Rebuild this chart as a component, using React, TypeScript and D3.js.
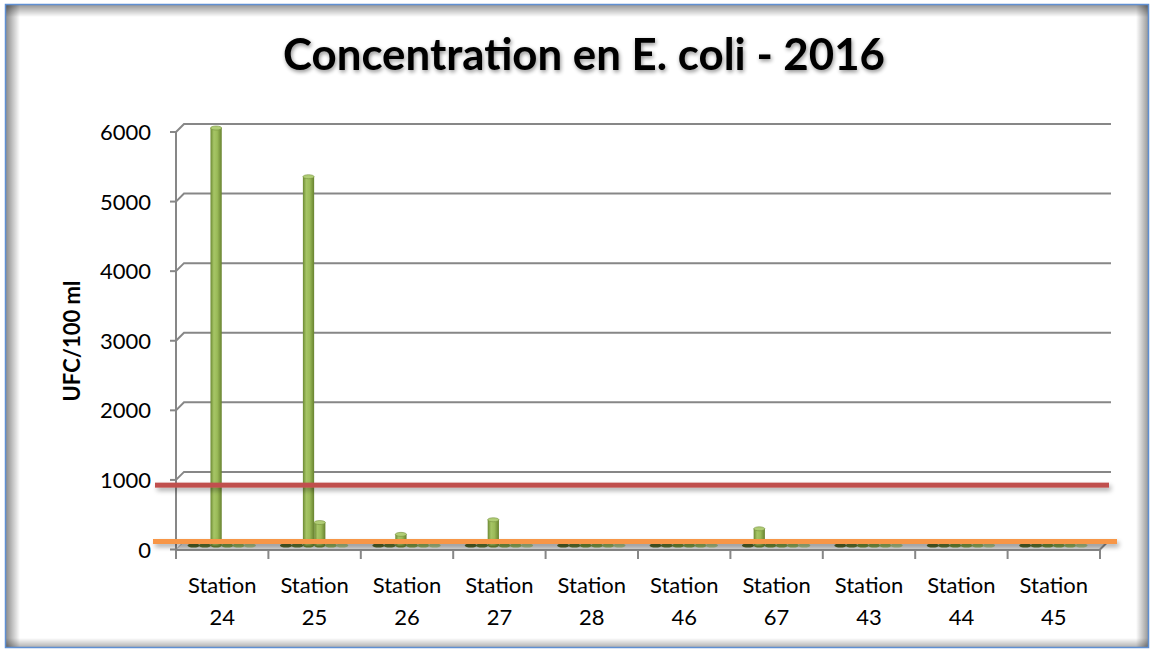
import React from 'react';
import * as d3 from 'd3';

const stations = ['24', '25', '26', '27', '28', '46', '67', '43', '44', '45'];
const seriesNames = ['S1', 'S2', 'S3', 'S4', 'S5', 'S6'];
const series1 = [15, 10, 10, 8, 5, 10, 10, 8, 10, 5];
const series2 = [20, 15, 25, 10, 5, 10, 240, 10, 15, 10];
const series3 = [6000, 5300, 160, 370, 8, 10, 20, 15, 15, 10];
const series4 = [10, 330, 15, 10, 5, 5, 10, 10, 10, 10];
const series5 = [8, 10, 10, 5, 5, 5, 10, 5, 5, 5];
const series6 = [5, 5, 5, 5, 5, 5, 5, 5, 5, 5];
const allSeries = [series1, series2, series3, series4, series5, series6];
const yTicks = [0, 1000, 2000, 3000, 4000, 5000, 6000];
const redThreshold = 925;
const orangeThreshold = 115;
const title = 'Concentration en E. coli - 2016';
const yTitle = 'UFC/100 ml';
const catPrefix = 'Station';

const W = 1154;
const H = 652;
const DX = 8;
const DY = -8;
const shades = ['#4f6228', '#5a7230', '#6b8a35', '#7a9a45', '#8fae5c', '#a7bf85'];

export default function App() {
  const x0 = d3.scaleBand<string>().domain(stations).range([176, 1100]).padding(0);
  const bw = x0.bandwidth();
  const x1 = d3.scaleBand<string>().domain(seriesNames).range([bw * 0.13, bw * 0.86]).padding(0);
  const y = d3.scaleLinear().domain([0, 6000]).range([549.5, 132]);
  const font = 'Lato, "Open Sans", sans-serif';
  const baseY = y(0) - 4;

  return (
    <svg width={W} height={H} style={{ position: 'absolute', left: 0, top: 0, display: 'block' }} xmlns="http://www.w3.org/2000/svg">
      <defs>
        <linearGradient id="cyl" x1="0" x2="1" y1="0" y2="0">
          <stop offset="0%" stopColor="#6c8933" />
          <stop offset="30%" stopColor="#a6c566" />
          <stop offset="60%" stopColor="#9bbb59" />
          <stop offset="100%" stopColor="#67822f" />
        </linearGradient>
        <linearGradient id="shL" x1="0" x2="1" y1="0" y2="0">
          <stop offset="0%" stopColor="#000" stopOpacity="0.45" />
          <stop offset="100%" stopColor="#000" stopOpacity="0" />
        </linearGradient>
        <linearGradient id="shR" x1="1" x2="0" y1="0" y2="0">
          <stop offset="0%" stopColor="#000" stopOpacity="0.4" />
          <stop offset="100%" stopColor="#000" stopOpacity="0" />
        </linearGradient>
        <linearGradient id="shT" x1="0" x2="0" y1="0" y2="1">
          <stop offset="0%" stopColor="#000" stopOpacity="0.4" />
          <stop offset="100%" stopColor="#000" stopOpacity="0" />
        </linearGradient>
        <linearGradient id="shB" x1="0" x2="0" y1="1" y2="0">
          <stop offset="0%" stopColor="#000" stopOpacity="0.3" />
          <stop offset="100%" stopColor="#000" stopOpacity="0" />
        </linearGradient>
        <filter id="tshadow" x="-10%" y="-30%" width="120%" height="160%">
          <feGaussianBlur in="SourceAlpha" stdDeviation="2" />
          <feOffset dx="1" dy="2" result="b" />
          <feComponentTransfer><feFuncA type="linear" slope="0.45" /></feComponentTransfer>
          <feMerge><feMergeNode /><feMergeNode in="SourceGraphic" /></feMerge>
        </filter>
        <filter id="lshadow" filterUnits="userSpaceOnUse" x="0" y="0" width={W} height={H}>
          <feGaussianBlur in="SourceAlpha" stdDeviation="2.5" />
          <feOffset dx="2" dy="3" />
          <feComponentTransfer><feFuncA type="linear" slope="0.35" /></feComponentTransfer>
          <feMerge><feMergeNode /><feMergeNode in="SourceGraphic" /></feMerge>
        </filter>
      </defs>

      {/* frame */}
      <rect x={0} y={0} width={W} height={H} fill="#fff" />
      <rect x={5.5} y={4.5} width={1143} height={643} fill="#fff" />
      <rect x={6} y={5} width={14} height={642} fill="url(#shL)" />
      <rect x={6} y={5} width={1142} height={12} fill="url(#shT)" />
      <rect x={1136} y={5} width={12} height={642} fill="url(#shR)" />
      <rect x={6} y={638} width={1142} height={9} fill="url(#shB)" />
      <rect x={5.5} y={4.5} width={1143} height={643} fill="none" stroke="#5f8fd2" strokeWidth={1.5} />

      {/* title */}
      <text x={584} y={70} textAnchor="middle" fontFamily={font} fontWeight="bold" fontSize={43}
        textLength={602} lengthAdjust="spacingAndGlyphs" filter="url(#tshadow)" fill="#000">{title}</text>

      {/* gridlines */}
      {yTicks.filter(t => t > 0).map(t => (
        <path key={t} d={`M176,${y(t)}L${176 + DX},${y(t) + DY}L1111,${y(t) + DY}`} fill="none" stroke="#878787" strokeWidth={2} />
      ))}

      {/* floor */}
      <polygon points={`176,${y(0)} 1100,${y(0)} ${1100 + DX},${y(0) + DY} ${176 + DX},${y(0) + DY}`}
        fill="#d9d9d9" stroke="#a0a0a0" strokeWidth={1} />
      <line x1={176} x2={1100} y1={y(0) + 0.5} y2={y(0) + 0.5} stroke="#878787" strokeWidth={2} />
      <line x1={1100} x2={1100 + DX} y1={y(0)} y2={y(0) + DY} stroke="#878787" strokeWidth={2} />

      {/* axes */}
      <line x1={176} x2={176} y1={y(6000)} y2={559} stroke="#878787" strokeWidth={2} />
      {yTicks.map(t => (
        <g key={'t' + t}>
          <line x1={170} x2={176} y1={y(t)} y2={y(t)} stroke="#878787" strokeWidth={2} />
          <text x={151} y={y(t) + 8} textAnchor="end" fontFamily={font} fontSize={22} fill="#000">{t}</text>
        </g>
      ))}
      {stations.map(s => (
        <line key={'ct' + s} x1={(x0(s) as number) + bw} x2={(x0(s) as number) + bw} y1={y(0)} y2={559} stroke="#878787" strokeWidth={2} />
      ))}
      {stations.map(s => {
        const cx = (x0(s) as number) + bw / 2;
        return (
          <g key={'cl' + s}>
            <text x={cx} y={593} textAnchor="middle" fontFamily={font} fontSize={22} fill="#000">{catPrefix}</text>
            <text x={cx} y={625} textAnchor="middle" fontFamily={font} fontSize={22} fill="#000">{s}</text>
          </g>
        );
      })}
      <text transform={`translate(80,341) rotate(-90)`} textAnchor="middle" fontFamily={font} fontWeight="bold" fontSize={22} fill="#000">{yTitle}</text>

      {/* bars */}
      {stations.map((s, i) => (
        <g key={'b' + s}>
          {seriesNames.map((sn, j) => {
            const v = allSeries[j][i];
            const bx = (x0(s) as number) + (x1(sn) as number);
            const w = x1.bandwidth();
            const top = y(v) - 4;
            const h = baseY - top;
            const cx = bx + w / 2;
            if (h < 4) {
              return (
                <ellipse key={sn} cx={cx} cy={baseY} rx={w / 2 + 0.5} ry={2} fill={shades[j]} />
              );
            }
            return (
              <g key={sn}>
                <ellipse cx={cx} cy={baseY} rx={w / 2} ry={2} fill="#6c8933" />
                <rect x={bx} y={top} width={w} height={h} fill="url(#cyl)" />
                <ellipse cx={cx} cy={top} rx={w / 2} ry={2} fill="#b0cd75" stroke="#738f3a" strokeWidth={0.6} />
              </g>
            );
          })}
        </g>
      ))}

      {/* threshold lines */}
      <rect x={155} width={1109 - 155} y={y(redThreshold) - 2.5} height={5} fill="#c0504d" filter="url(#lshadow)" />
      <rect x={153} width={1117 - 153} y={y(orangeThreshold) - 2.5} height={5} fill="#f79646" filter="url(#lshadow)" />
    </svg>
  );
}
